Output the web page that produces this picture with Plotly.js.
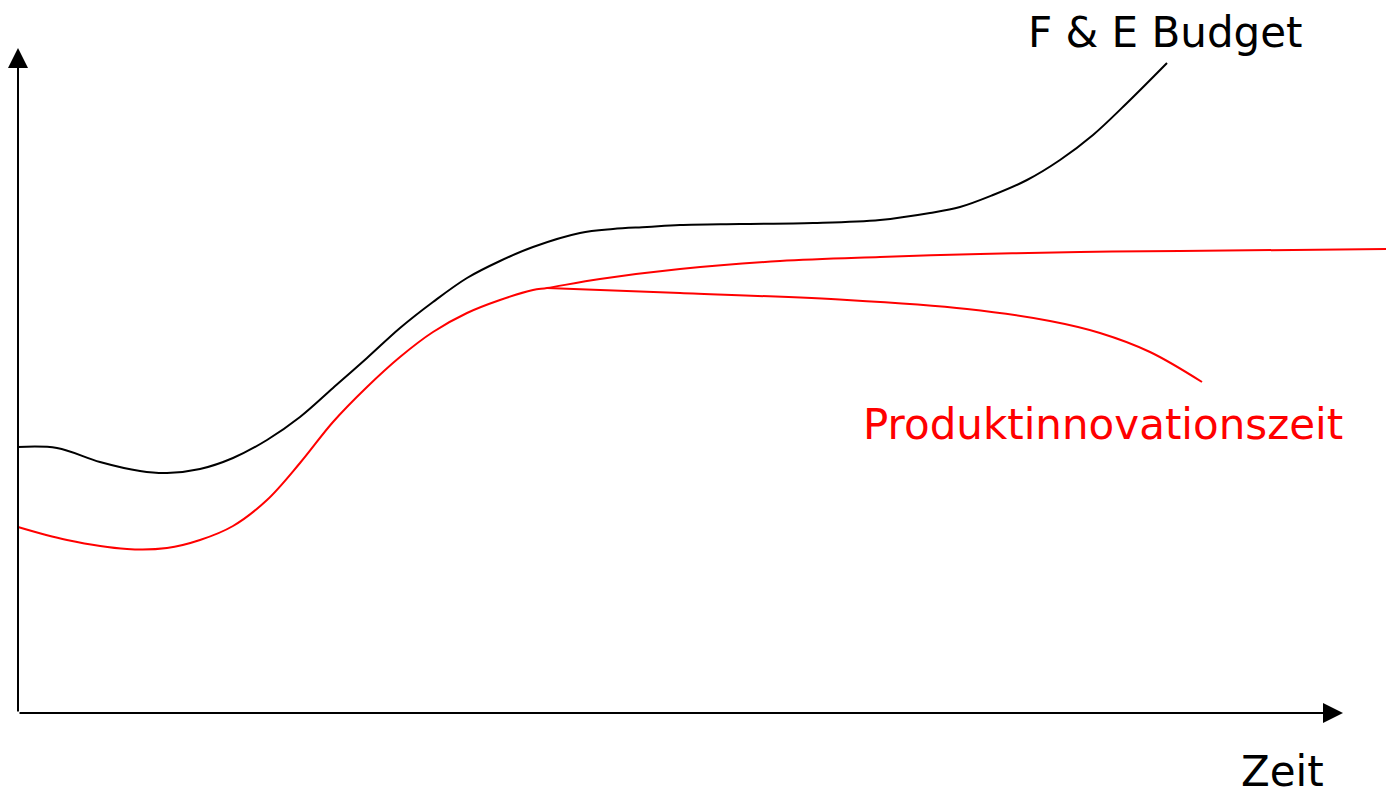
<!DOCTYPE html>
<html>
<head>
<meta charset="utf-8">
<script src="https://cdn.plot.ly/plotly-3.0.1.min.js"></script>
<style>
html,body{margin:0;padding:0;background:#fff;}
#chart{width:1386px;height:795px;}
</style>
</head>
<body>
<div id="chart"></div>
<script>
// Time axis positions and values (origin at bottom-left of the axes)
const budgetTime  = [0,39,82,122,149,182,215,249,282,315,349,382,415,449,482,515,562,595,629,662,722,795,862,912,942,975,1009,1042,1075,1109,1149];
const budgetValue = [266,265,251,242,240,244,255,273,296,325,355,385,411,435,452,466,480,484,486,488,489,490,493,500,506,518,533,553,578,610,650];

const innovTime  = [0,49,109,149,182,215,249,282,315,349,382,415,449,482,515,529,582,662,762,862,962,1062,1162,1368];
const innovValue = [186,173,164,165,173,187,213,250,291,326,356,381,400,413,423,425,434,444,452,456,459,461,462,464];

const innovBranchTime  = [529,662,829,949,1032,1082,1132,1184];
const innovBranchValue = [425,420,413,404,392,380,361,331];

const labelBudget = "F & E Budget";
const labelInnov  = "Produktinnovationszeit";
const labelTime   = "Zeit";

const FONT = "DejaVu Sans, Verdana, sans-serif";

const traces = [
  {x: budgetTime, y: budgetValue, mode: "lines", line: {color: "#000000", width: 2, shape: "spline", smoothing: 1}, hoverinfo: "skip"},
  {x: innovTime, y: innovValue, mode: "lines", line: {color: "#FF0000", width: 2, shape: "spline", smoothing: 1}, hoverinfo: "skip"},
  {x: innovBranchTime, y: innovBranchValue, mode: "lines", line: {color: "#FF0000", width: 2, shape: "spline", smoothing: 1}, hoverinfo: "skip"}
];

const layout = {
  width: 1386, height: 795,
  margin: {l: 0, r: 0, t: 0, b: 0, pad: 0},
  paper_bgcolor: "#ffffff", plot_bgcolor: "#ffffff",
  showlegend: false,
  xaxis: {range: [-18, 1368], visible: false, fixedrange: true},
  yaxis: {range: [-82, 713], visible: false, fixedrange: true},
  annotations: [
    {x: 0, y: 665, ax: 0, ay: 0, xref: "x", yref: "y", axref: "x", ayref: "y",
     showarrow: true, arrowhead: 2, arrowsize: 2, arrowwidth: 2, arrowcolor: "#000", text: ""},
    {x: 1325, y: 0, ax: 0, ay: 0, xref: "x", yref: "y", axref: "x", ayref: "y",
     showarrow: true, arrowhead: 2, arrowsize: 2, arrowwidth: 2, arrowcolor: "#000", text: ""},
    {x: 1147, y: 681, xref: "x", yref: "y", text: labelBudget, showarrow: false,
     font: {family: FONT, size: 42, color: "#000000"}, xanchor: "center", yanchor: "middle"},
    {x: 1085, y: 289, xref: "x", yref: "y", text: labelInnov, showarrow: false,
     font: {family: FONT, size: 42, color: "#FF0000"}, xanchor: "center", yanchor: "middle"},
    {x: 1264, y: -58, xref: "x", yref: "y", text: labelTime, showarrow: false,
     font: {family: FONT, size: 42, color: "#000000"}, xanchor: "center", yanchor: "middle"}
  ]
};

Plotly.newPlot("chart", traces, layout, {staticPlot: true, displayModeBar: false});
</script>
</body>
</html>
